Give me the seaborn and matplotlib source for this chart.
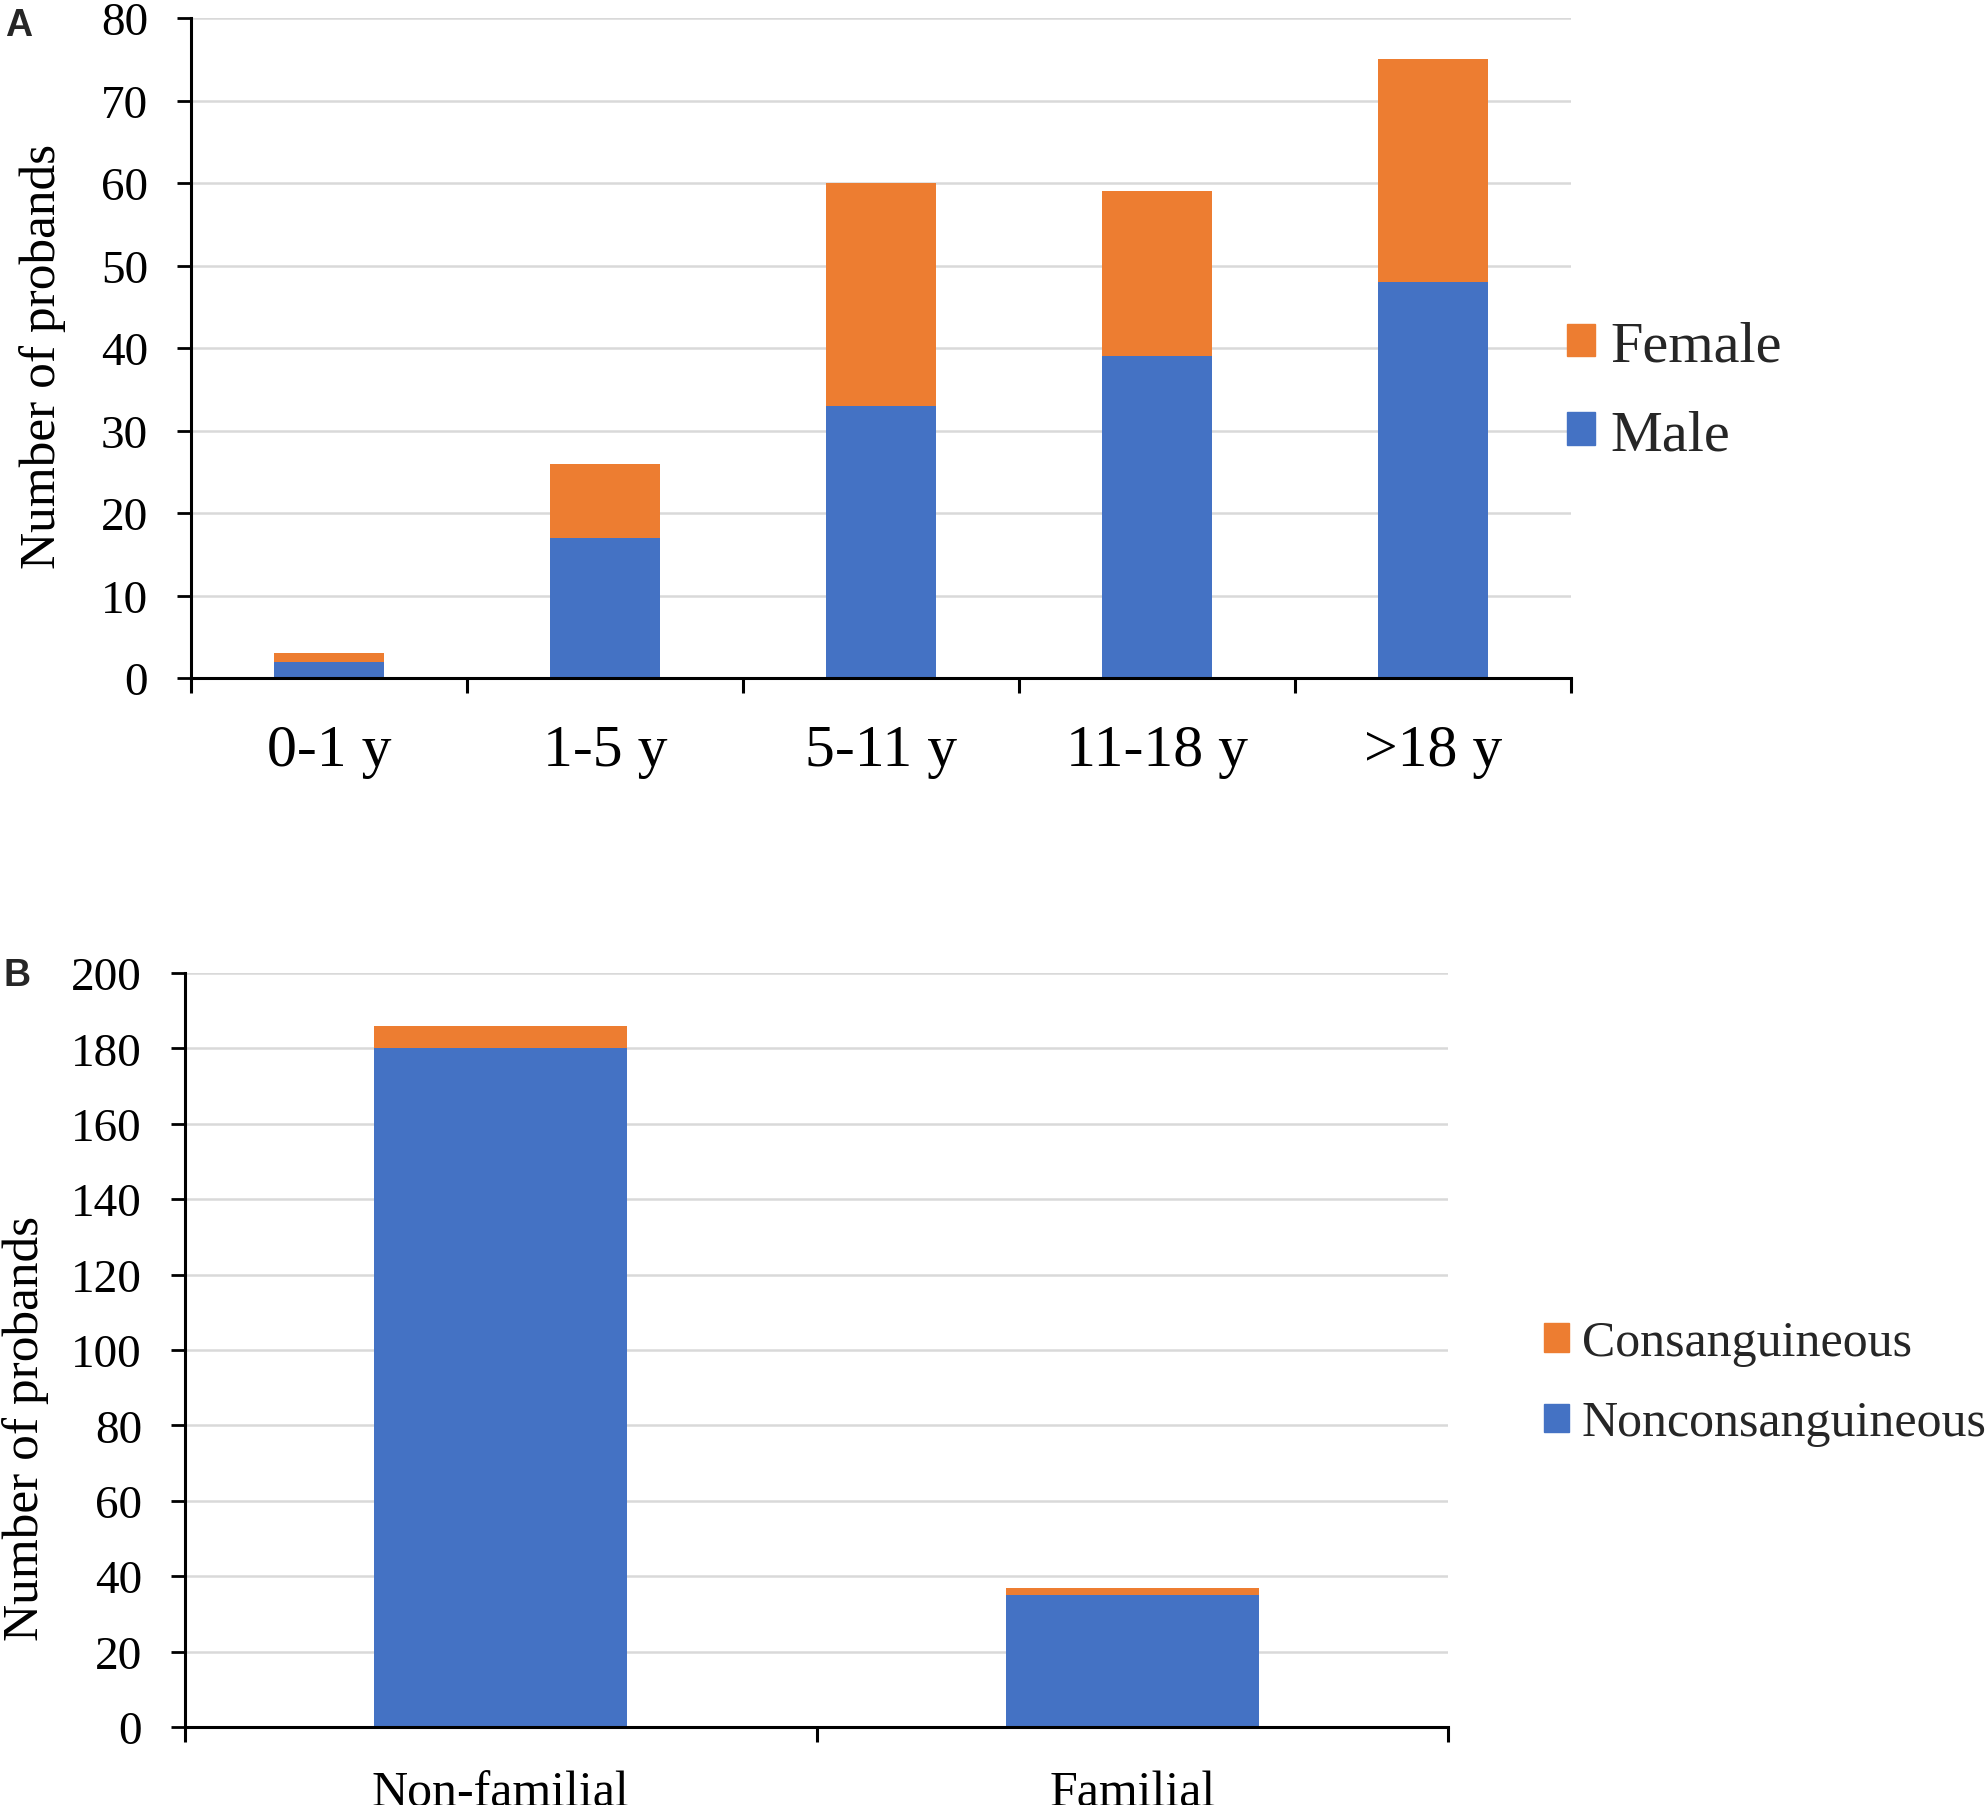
import numpy as np
import pandas as pd
import matplotlib.pyplot as plt
import seaborn as sns
from matplotlib.patches import Patch

# panel A data
age_groups = ["0-1 y", "1-5 y", "5-11 y", "11-18 y", ">18 y"]
male = [2, 17, 33, 39, 48]
female = [1, 9, 27, 20, 27]

# panel B data
family_groups = ["Non-familial", "Familial"]
noncons = [180, 35]
cons = [6, 2]

BLUE = "#4472C4"
ORANGE = "#ED7D31"
GRID = "#d9d9d9"

sns.set_theme(style="white")
plt.rcParams['font.family'] = ['Liberation Serif', 'DejaVu Serif']

DPI = 100
fig = plt.figure(figsize=(1987 / DPI, 1806 / DPI), dpi=DPI)


def stacked_panel(ax, cats, base, top, ymax, ystep, tick_fs, label_fs, xpad):
    df = pd.DataFrame({"cat": cats, "base": base,
                       "total": np.array(base) + np.array(top)})
    sns.barplot(data=df, x="cat", y="total", color=ORANGE, width=0.4,
                linewidth=0, saturation=1, ax=ax)
    sns.barplot(data=df, x="cat", y="base", color=BLUE, width=0.4,
                linewidth=0, saturation=1, ax=ax)
    n = len(cats)
    ax.set_xlim(-0.5, n - 0.5)
    ax.set_ylim(0, ymax)
    ax.set_yticks(np.arange(0, ymax + 1, ystep))
    ax.set_xticks(np.arange(n + 1) - 0.5, minor=True)
    ax.grid(axis="y", color=GRID, linewidth=1.8)
    ax.set_axisbelow(True)
    for s in ["top", "right"]:
        ax.spines[s].set_visible(False)
    for s in ["left", "bottom"]:
        ax.spines[s].set_color("black")
        ax.spines[s].set_linewidth(2.2)
    ax.tick_params(axis="x", which="major", length=0, pad=xpad,
                   labelsize=label_fs, colors="black")
    ax.tick_params(axis="x", which="minor", length=11, width=2.2,
                   direction="out", bottom=True, color="black")
    ax.tick_params(axis="y", length=10, width=2.0, direction="out",
                   left=True, pad=21, labelsize=tick_fs, colors="black")
    ax.set_xlabel("")
    ax.set_ylabel("Number of probands", fontsize=37, color="black")


# ---- panel A
axA = fig.add_axes([191 / 1987, 1 - 679 / 1806, 1380 / 1987, 660 / 1806])
stacked_panel(axA, age_groups, male, female, 80, 10, 34, 43, 33)
axA.yaxis.set_label_coords(66 / 1987, 1 - 356 / 1806, transform=fig.transFigure)
axA.legend(handles=[Patch(color=ORANGE, label="Female"),
                    Patch(color=BLUE, label="Male")],
           loc="center left", bbox_to_anchor=(1544 / 1987, 1 - 392 / 1806),
           bbox_transform=fig.transFigure, frameon=False, fontsize=42,
           handlelength=0.48, handleheight=0.48, handletextpad=0.25,
           labelspacing=0.62, borderaxespad=0)
fig.text(5 / 1987, 1 - 8 / 1806, "A", fontsize=27, fontweight="bold",
         family="Liberation Sans", va="top", ha="left")

# ---- panel B
axB = fig.add_axes([185 / 1987, 1 - 1728 / 1806, 1263 / 1987, 754 / 1806])
stacked_panel(axB, family_groups, noncons, cons, 200, 20, 34, 36, 31)
axB.yaxis.set_label_coords(49 / 1987, 1 - 1428 / 1806, transform=fig.transFigure)
axB.legend(handles=[Patch(color=ORANGE, label="Consanguineous"),
                    Patch(color=BLUE, label="Nonconsanguineous")],
           loc="center left", bbox_to_anchor=(1524 / 1987, 1 - 1384 / 1806),
           bbox_transform=fig.transFigure, frameon=False, fontsize=36,
           handlelength=0.5, handleheight=0.5, handletextpad=0.25,
           labelspacing=0.68, borderaxespad=0)
fig.text(4 / 1987, 1 - 958 / 1806, "B", fontsize=27, fontweight="bold",
         family="Liberation Sans", va="top", ha="left")

fig.savefig("out.png", dpi=DPI)
